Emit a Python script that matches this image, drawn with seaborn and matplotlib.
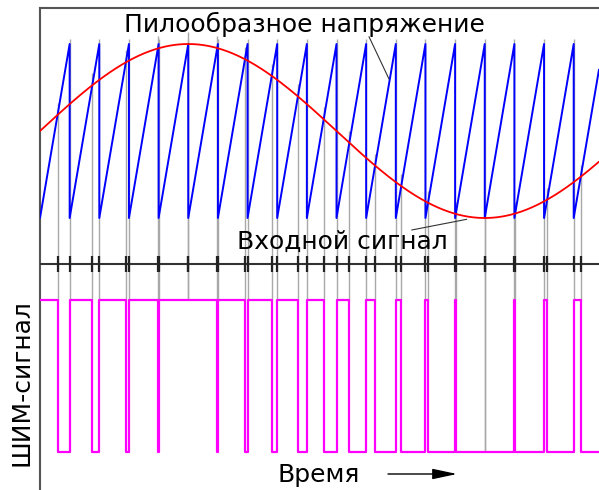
import numpy as np
import pandas as pd
import matplotlib
matplotlib.use("Agg")
import matplotlib.pyplot as plt
import seaborn as sns

# ---------------- data ----------------
TOOTH_STARTS = [0, 1, 2, 3, 4, 5, 6, 7, 8, 9, 10, 11, 12, 13, 14, 15, 16, 17, 18]
T_END = 18.853            # visible time span, in sawtooth periods
SAW_MIN, SAW_MAX = -1.0, 1.0
SINE_AMPLITUDE = 1.0
SINE_PERIOD = 20.0        # input signal period, in sawtooth periods
PWM_HIGH, PWM_LOW = 1, 0

LABEL_SAW = "Пилообразное напряжение"
LABEL_SINE = "Входной сигнал"
LABEL_PWM = "ШИМ-сигнал"
LABEL_TIME = "Время"

# ---------------- layout helpers (pixel -> data) ----------------
W, H = 599, 490
X0, DX = 40.0, 29.65
Y0, DY = 131.0, 87.0


def tx(px):
    return (px - X0) / DX


def vy(py):
    return (Y0 - py) / DY


PWM_Y = {PWM_HIGH: vy(300), PWM_LOW: vy(452)}
AXIS_Y = vy(263.5)


def sine(t):
    return SINE_AMPLITUDE * np.sin(2 * np.pi * np.asarray(t) / SINE_PERIOD)


def saw(t):
    t = np.asarray(t, dtype=float)
    return SAW_MIN + (SAW_MAX - SAW_MIN) * (t - np.floor(t))


def pwm(t):
    return PWM_HIGH if sine(t) > saw(t) else PWM_LOW


# ---------------- derived curves ----------------
ts = np.linspace(0, T_END, 3000)
sine_df = pd.DataFrame({"t": ts, "v": sine(ts)})

saw_t, saw_v = [], []
crossings = []
pwm_t, pwm_v = [], []
eps = 1e-6
for k in TOOTH_STARTS:
    end = min(k + 1, T_END)
    saw_t += [k, end]
    saw_v += [SAW_MIN, SAW_MIN + (SAW_MAX - SAW_MIN) * (end - k)]
    if k + 1 <= T_END:
        saw_t.append(k + 1)
        saw_v.append(SAW_MIN)
    # crossing of the sine with the rising ramp (bisection)
    f = lambda x: float(sine(x)) - (SAW_MIN + (SAW_MAX - SAW_MIN) * (x - k))
    a, b = float(k), float(end)
    if f(b) > 0:
        c = b
    else:
        for _ in range(80):
            m = 0.5 * (a + b)
            if f(m) > 0:
                a = m
            else:
                b = m
        c = 0.5 * (a + b)
    crossings.append(c)
    if c - k > eps:
        pwm_t += [k, c]
        pwm_v += [PWM_Y[PWM_HIGH]] * 2
    if end - c > eps:
        pwm_t += [c, end]
        pwm_v += [PWM_Y[PWM_LOW]] * 2

saw_df = pd.DataFrame({"t": saw_t, "v": saw_v})
pwm_df = pd.DataFrame({"t": pwm_t, "v": pwm_v})
resets = [k + 1 for k in TOOTH_STARTS if k + 1 <= T_END]

# ---------------- figure ----------------
sns.set_style("white")
plt.rcParams["font.family"] = ["DejaVu Sans"]
plt.rcParams["text.color"] = "black"

fig = plt.figure(figsize=(W / 100, H / 100), dpi=100)
ax = fig.add_axes([X0 / W, 0, (W - X0) / W, (H - 8) / H])
ax.set_xlim(0, tx(W))
ax.set_ylim(vy(H), vy(8))
for side in ["right", "bottom"]:
    ax.spines[side].set_visible(False)
for side in ["left", "top"]:
    ax.spines[side].set_color("#555555")
    ax.spines[side].set_linewidth(1.5)
ax.set_xticks([])
ax.set_yticks([])


def bottom_level(e):
    d = 1e-4
    lvl = max(pwm(e - d), pwm(e + d))
    return PWM_Y[lvl]


# grey guide lines from the crossings down to the PWM signal
for c in crossings:
    if c >= T_END - 1e-9:
        continue
    ax.vlines(c, bottom_level(c), float(sine(c)) + 12 / DY,
              color="#a8a8a8", lw=1.0, zorder=1)
for r in resets:
    ax.vlines(r, bottom_level(r), SAW_MAX + 5 / DY,
              color="#a8a8a8", lw=1.0, zorder=1)

# time axis with tick marks at every event
ax.axhline(AXIS_Y, color="#333333", lw=1.5, zorder=3)
events = [c for c in crossings if c < T_END - 1e-9] + resets
ax.vlines(events, AXIS_Y - 8 / DY, AXIS_Y + 8 / DY, color="#222222",
          lw=1.6, zorder=4)

sns.lineplot(data=saw_df, x="t", y="v", sort=False, estimator=None,
             color="#0000ff", lw=1.4, ax=ax, zorder=5)
sns.lineplot(data=sine_df, x="t", y="v", sort=False, estimator=None,
             color="#ff0000", lw=1.3, ax=ax, zorder=6)
sns.lineplot(data=pwm_df, x="t", y="v", sort=False, estimator=None,
             color="#ff00ff", lw=1.6, ax=ax, zorder=5)
ax.set_xlabel("")
ax.set_ylabel("")

# labels and leader lines
fs = 18.0
ax.text(tx(124), vy(32), LABEL_SAW, fontsize=fs, ha="left", va="baseline",
        color="black", zorder=7)
ax.plot([tx(369), tx(389)], [vy(36.7), vy(79)], color="#333333", lw=0.8,
        zorder=7)
ax.text(tx(237), vy(249), LABEL_SINE, fontsize=fs, ha="left", va="baseline",
        color="black", zorder=7)
ax.plot([tx(411.7), tx(466.7)], [vy(230), vy(219.3)], color="#333333",
        lw=0.8, zorder=7)
ax.text(tx(277), vy(482), LABEL_TIME, fontsize=fs, ha="left", va="baseline",
        color="black", zorder=7)
ax.annotate("", xy=(tx(457), vy(474)), xytext=(tx(388), vy(474)),
            arrowprops=dict(arrowstyle="-|>,head_length=0.75,head_width=0.16",
                            color="black", lw=1.0, mutation_scale=20,
                            shrinkA=0, shrinkB=0), zorder=7)
fig.text(29 / W, 1 - 383 / H, LABEL_PWM, fontsize=fs, rotation=90,
         rotation_mode="anchor", ha="center", va="baseline", color="black")

fig.savefig("out.png", dpi=100)
